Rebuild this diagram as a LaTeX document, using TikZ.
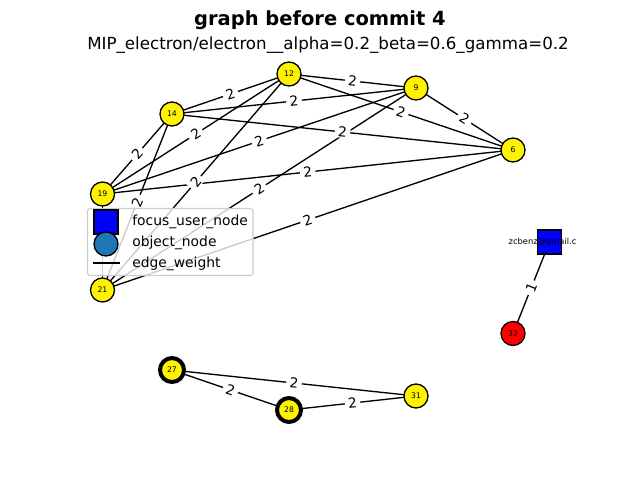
\documentclass[tikz,border=0pt]{standalone}
\usepackage{fontspec}
\setmainfont{DejaVu Sans}
\definecolor{objblue}{HTML}{1F77B4}
\definecolor{legline}{HTML}{CCCCCC}
\begin{document}
\begin{tikzpicture}[x=0.75pt,y=-0.75pt,
  vnode/.style={circle,draw=black,line width=1pt,fill=yellow,minimum size=18pt,inner sep=0pt,
    font=\fontsize{5.8}{6}\selectfont},
  hnode/.style={vnode,line width=3pt},
  rnode/.style={vnode,fill=red},
  fnode/.style={rectangle,draw=black,line width=1pt,fill=blue,minimum size=18pt,inner sep=0pt},
  edge/.style={line width=1pt,black},
  elabel/.style={sloped,fill=white,inner xsep=2.5pt,inner ysep=0.5pt,font=\fontsize{10.4}{12}\selectfont},
  legtext/.style={anchor=base west,inner sep=0pt,font=\fontsize{10.4}{12}\selectfont},
]
\useasboundingbox (0,0) rectangle (640,480);
% titles
\node[anchor=base,font=\fontsize{14.6}{17}\bfseries\selectfont] (title) at (320,25) {graph before commit 4};
\node[anchor=base,font=\fontsize{12.5}{15}\selectfont] (subtitle) at (328,49) {MIP\_electron/electron\_\_alpha=0.2\_beta=0.6\_gamma=0.2};

% node positions
\coordinate (p12) at (289,74);
\coordinate (p9) at (416,88);
\coordinate (p14) at (172,114);
\coordinate (p6) at (513,150);
\coordinate (p19) at (102.5,194);
\coordinate (p21) at (102.5,290);
\coordinate (pz) at (549.5,242);
\coordinate (p32) at (513,333.5);
\coordinate (p27) at (172,370);
\coordinate (p28) at (289,410);
\coordinate (p31) at (416,396);

% edges
\foreach \a/\b in {12/9,12/14,12/6,12/19,12/21,14/9,14/6,14/19,14/21,9/19,9/21,9/6,6/19,6/21,19/21,z/32,27/31,27/28,28/31}
  \draw[edge] (p\a) -- (p\b);

% nodes
\node[vnode] (n12) at (p12) {12};
\node[vnode] (n9) at (p9) {9};
\node[vnode] (n14) at (p14) {14};
\node[vnode] (n6) at (p6) {6};
\node[vnode] (n19) at (p19) {19};
\node[vnode] (n21) at (p21) {21};
\node[fnode] (nz) at (pz) {};
\node[font=\fontsize{6.25}{7}\selectfont,inner sep=0pt] (zl) at (542.5,242) {zcbenz@gmail.c};
\node[rnode] (n32) at (p32) {32};
\node[hnode] (n27) at (p27) {27};
\node[hnode] (n28) at (p28) {28};
\node[vnode] (n31) at (p31) {31};

% edge labels
\foreach \a/\b in {12/9,12/14,12/6,12/19,12/21,14/9,14/6,14/19,14/21,9/19,9/21,9/6,6/19,6/21,19/21,27/31,27/28,28/31}
  \path (n\a.center) -- node[elabel] {2} (n\b.center);
\path (nz.center) -- node[elabel] {1} (n32.center);

% legend
\draw[draw=legline,line width=0.8pt,fill=white,fill opacity=0.8,rounded corners=2pt] (87.5,208.5) rectangle (253,275.5);
\node[fnode,line width=1pt] (lsq) at (106,222) {};
\node[circle,draw=black,line width=1pt,fill=objblue,minimum size=18pt,inner sep=0pt] (lci) at (106,244) {};
\coordinate (ll1) at (93,263);
\coordinate (ll2) at (120,263);
\draw[edge] (ll1) -- (ll2);
\node[legtext] (lt1) at (132,225.5) {focus\_user\_node};
\node[legtext] (lt2) at (132,246.5) {object\_node};
\node[legtext] (lt3) at (132,267.5) {edge\_weight};
\end{tikzpicture}
\end{document}
